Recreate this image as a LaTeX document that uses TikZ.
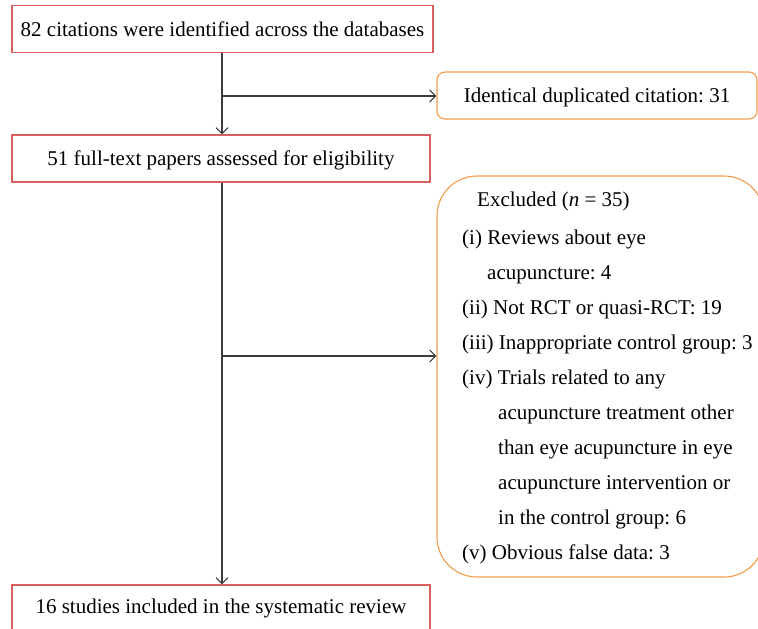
\documentclass[tikz,border=0pt]{standalone}
\usepackage{fontspec}
\setmainfont{Liberation Serif}
\usetikzlibrary{arrows.meta}
\definecolor{boxred}{RGB}{214,96,94}
\definecolor{boxorange}{RGB}{243,156,74}
\definecolor{linegray}{RGB}{60,60,60}
\frenchspacing
\begin{document}
\begin{tikzpicture}[x=1pt,y=-1pt,
  font=\fontsize{21}{25}\selectfont,
  redbox/.style={draw=boxred,line width=1.1pt,rectangle,inner sep=0pt,
    minimum width=#1,minimum height=47pt,text height=14pt,text depth=0pt},
  orbox/.style={draw=boxorange,line width=1.1pt,rectangle,inner sep=0pt},
  conn/.style={draw=linegray,line width=1.1pt,-{Straight Barb[length=6pt,width=12pt]}},
  txt/.style={anchor=base west,inner sep=0pt}]
\useasboundingbox (0,0) rectangle (758,629);
\clip (0,0) rectangle (758,629);
% main column
\node[redbox=421pt] (b1) at (222.5,29) {82 citations were identified across the databases};
\node[redbox=418pt] (b2) at (221,158.5) {51 full-text papers assessed for eligibility};
\node[redbox=418pt,text height=10pt] (b4) at (221,608.5) {16 studies included in the systematic review};
% side boxes
\node[orbox,rounded corners=8pt,minimum width=320pt,minimum height=47pt,text height=14pt,text depth=0pt] (dup) at (597,95.5) {Identical duplicated citation: 31};
\node[orbox,rounded corners=40pt,minimum width=327pt,minimum height=401pt] (exc) at (600.5,376.5) {};
% excluded text
\node[txt] (e0) at (477,206) {Excluded (\textit{n} = 35)};
\node[txt] (e1) at (462,244) {(i) Reviews about eye};
\node[txt] (e2) at (487,279) {acupuncture: 4};
\node[txt] (e3) at (462,314) {(ii) Not RCT or quasi-RCT: 19};
\node[txt] (e4) at (462,349) {(iii) Inappropriate control group: 3};
\node[txt] (e5) at (462,384) {(iv) Trials related to any};
\node[txt] (e6) at (498,419) {acupuncture treatment other};
\node[txt] (e7) at (498,454) {than eye acupuncture in eye};
\node[txt] (e8) at (498,489) {acupuncture intervention or};
\node[txt] (e9) at (498,524) {in the control group: 6};
\node[txt] (e10) at (462,559) {(v) Obvious false data: 3};
% connectors
\coordinate (j1) at (222,96);
\coordinate (j2) at (222,356);
\draw[conn] (b1.south -| j1) -- (b2.north -| j1);
\draw[conn] (j1) -- (j1 -| dup.west);
\draw[conn] (b2.south -| j2) -- (b4.north -| j2);
\draw[conn] (j2) -- (j2 -| exc.west);
\end{tikzpicture}
\end{document}
